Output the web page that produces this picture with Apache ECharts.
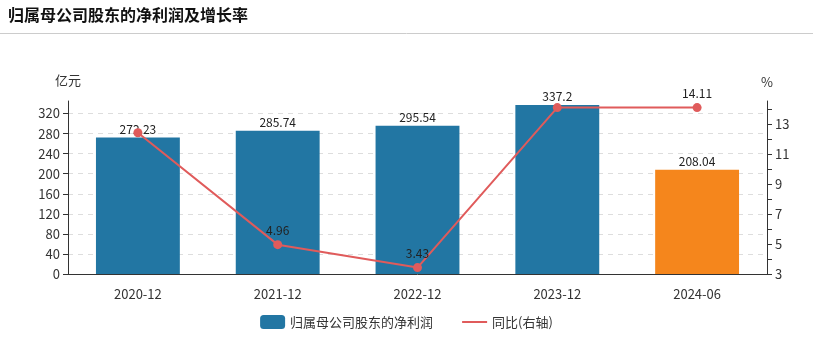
<!DOCTYPE html>
<html><head><meta charset="utf-8">
<script src="https://cdn.jsdelivr.net/npm/echarts@6/dist/echarts.min.js"></script>
<style>html,body{margin:0;padding:0;background:#fff}#c{width:813px;height:348px}</style>
</head><body><div id="c"></div>
<script>
const categories = ['2020-12','2021-12','2022-12','2023-12','2024-06'];
const profitValues = [272.23, 285.74, 295.54, 337.2, 208.04];
const yoyValues = [12.43, 4.96, 3.43, 14.11, 14.11];
const yoyLabelShown = [false, true, true, false, true];
const leftTicks = [0,40,80,120,160,200,240,280,320];
const rightTickLabels = [3,5,7,9,11,13];
const titleText = '归属母公司股东的净利润及增长率';
const barName = '归属母公司股东的净利润';
const lineName = '同比(右轴)';

const FONT = '"Noto Sans CJK SC", "Microsoft YaHei", sans-serif';
const chart = echarts.init(document.getElementById('c'));
chart.setOption({
  animation: false,
  textStyle: {fontFamily: FONT},
  graphic: [
    {type:'text', left: 8, top: 7, style:{text: titleText, font: 'bold 16px ' + FONT, fill:'#111'}},
    {type:'line', shape:{x1:0,y1:33.5,x2:813,y2:33.5}, style:{stroke:'#ccc', lineWidth:1}}
  ],
  legend: {
    bottom: 14, left: 'center', itemWidth: 25, itemHeight: 14, itemGap: 28,
    textStyle: {fontSize: 13, color: '#333'},
    data: [{name: barName, icon: 'roundRect'}, {name: lineName, itemStyle: {opacity: 0}}]
  },
  grid: {left: 68, right: 46, top: 101, bottom: 74},
  xAxis: {
    type: 'category', data: categories,
    axisLine: {lineStyle: {color: '#333'}},
    axisTick: {alignWithLabel: true, lineStyle:{color:'#333'}},
    axisLabel: {fontSize: 13, color: '#333', margin: 14}
  },
  yAxis: [
    {
      type: 'value', name: '亿元', min: 0, max: 345, interval: 40,
      nameTextStyle: {fontSize: 13, color: '#333', padding: [0, 0, 2, 0]},
      nameGap: 12,
      axisLine: {show: true, lineStyle: {color: '#333'}},
      axisTick: {show: true, lineStyle:{color:'#333'}},
      axisLabel: {fontSize: 13, color: '#333', showMaxLabel: false,
        formatter: v => leftTicks.indexOf(v) >= 0 ? String(v) : ''},
      splitLine: {show: true, showMaxLine: false, lineStyle: {type: [5, 5], color: '#ddd'}}
    },
    {
      type: 'value', name: '%', min: 3, max: 14.55, interval: 1,
      nameTextStyle: {fontSize: 13, color: '#333'},
      nameGap: 12,
      axisLine: {show: true, lineStyle: {color: '#333'}},
      axisTick: {show: true, lineStyle:{color:'#333'}},
      axisLabel: {fontSize: 13, color: '#333', showMaxLabel: false,
        formatter: v => rightTickLabels.indexOf(v) >= 0 ? String(v) : ''},
      splitLine: {show: false}
    }
  ],
  series: [
    {
      name: barName, type: 'bar', barWidth: '60%',
      data: profitValues.map((v, i) => ({value: v, itemStyle: {color: i === profitValues.length - 1 ? '#f5861c' : '#2276a3'}})),
      itemStyle: {color: '#2276a3'},
      label: {show: true, position: 'top', fontSize: 12, color: '#222', distance: 2},
      z: 2
    },
    {
      name: lineName, type: 'line', yAxisIndex: 1,
      data: yoyValues.map((v, i) => ({value: v, label: {show: yoyLabelShown[i]}})),
      symbol: 'circle', symbolSize: 9,
      itemStyle: {color: '#e05b5b'},
      lineStyle: {color: '#e05b5b', width: 2},
      label: {show: true, position: 'top', fontSize: 12, color: '#222', distance: 4},
      z: 3
    }
  ]
});
</script></body></html>
